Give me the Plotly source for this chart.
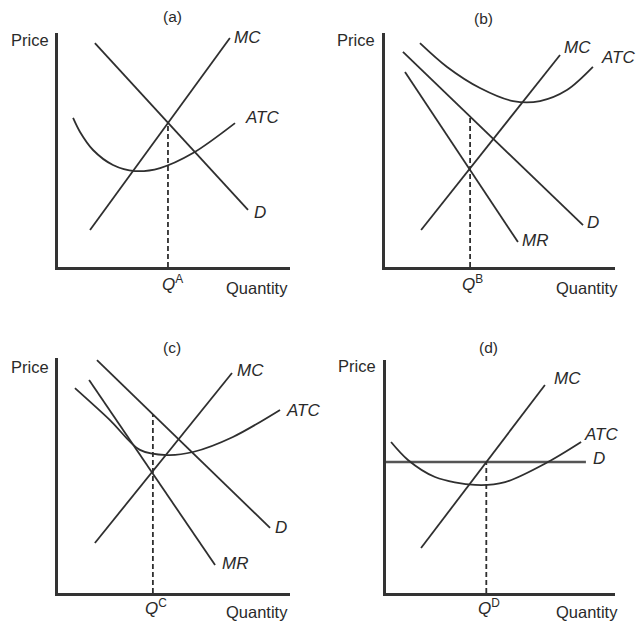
import plotly.graph_objects as go

W, H = 638, 623

# ---- data (economic units, each panel axes 0..10) ----
# Panel (a)
a_mc_x = [1.38, 7.41]; a_mc_y = [1.58, 9.79]
a_d_x = [1.59, 8.19]; a_d_y = [9.57, 2.44]
a_atc_x = [0.65, 0.95, 1.51, 2.37, 3.32, 4.40, 5.82, 7.63]
a_atc_y = [6.37, 5.77, 5.00, 4.36, 4.10, 4.23, 4.87, 6.15]
a_q = 4.74; a_qp = 6.12
# Panel (b)
b_mc_x = [1.57, 7.61]; b_mc_y = [1.58, 9.06]
b_atc_x = [1.52, 2.70, 4.13, 5.57, 6.74, 7.91, 9.04]
b_atc_y = [9.57, 8.55, 7.65, 7.09, 7.09, 7.56, 8.55]
b_d_x = [0.78, 8.61]; b_d_y = [9.19, 1.79]
b_mr_x = [0.87, 5.78]; b_mr_y = [8.33, 1.07]
b_q = 3.70; b_qp = 6.43
# Panel (c)
c_mc_x = [1.59, 7.5]; c_mc_y = [2.13, 9.36]
c_atc_x = [0.73, 2.24, 3.53, 4.70, 5.82, 7.54, 9.57]
c_atc_y = [8.72, 7.36, 6.09, 5.87, 6.0, 6.64, 7.79]
c_d_x = [1.68, 9.14]; c_d_y = [9.91, 2.77]
c_mr_x = [1.34, 6.77]; c_mr_y = [9.06, 1.19]
c_q = 4.09; c_qp = 7.60
# Panel (d)
d_mc_x = [1.53, 6.94]; d_mc_y = [1.93, 8.93]
d_atc_x = [0.22, 0.96, 2.14, 3.89, 5.2, 7.07, 8.52]
d_atc_y = [6.48, 5.71, 4.98, 4.64, 4.76, 5.62, 6.48]
d_d_x = [0.0, 8.73]; d_d_y = [5.62, 5.62]
d_q = 4.38; d_qp = 5.62

panel_titles = ["(a)", "(b)", "(c)", "(d)"]
q_letters = ["A", "B", "C", "D"]

# ---- layout geometry (page pixels) ----
geo = [(58, 290, 33, 267), (385, 615, 33, 267), (58, 290, 358, 593), (386, 615, 360, 593)]

LC = "#2f2f2f"
FONT = "Liberation Sans, Arial, sans-serif"
fig = go.Figure()

def px2paper(px, py):
    return px / W, 1 - py / H

# (x, y, shape, colour, width)
curves = [
    [(a_mc_x, a_mc_y, "linear", LC, 1.8), (a_d_x, a_d_y, "linear", LC, 1.8), (a_atc_x, a_atc_y, "spline", LC, 1.8)],
    [(b_mc_x, b_mc_y, "linear", LC, 1.8), (b_atc_x, b_atc_y, "spline", LC, 1.8),
     (b_d_x, b_d_y, "linear", LC, 1.8), (b_mr_x, b_mr_y, "linear", LC, 1.8)],
    [(c_mc_x, c_mc_y, "linear", LC, 1.8), (c_atc_x, c_atc_y, "spline", LC, 1.8),
     (c_d_x, c_d_y, "linear", LC, 1.8), (c_mr_x, c_mr_y, "linear", LC, 1.8)],
    [(d_d_x, d_d_y, "linear", "#555555", 2.6), (d_mc_x, d_mc_y, "linear", LC, 1.8),
     (d_atc_x, d_atc_y, "spline", LC, 1.8)],
]
qs = [(a_q, a_qp), (b_q, b_qp), (c_q, c_qp), (d_q, d_qp)]

for i, (x0, x1, yt, yb) in enumerate(geo):
    n = "" if i == 0 else str(i + 1)
    xa, ya = "x" + n, "y" + n
    for (xs, ys, shp, col, lw) in curves[i]:
        fig.add_trace(go.Scatter(x=xs, y=ys, mode="lines", xaxis=xa, yaxis=ya,
                                 line=dict(color=col, width=lw, shape=shp, smoothing=0.9),
                                 showlegend=False, hoverinfo="skip"))
    q, qp = qs[i]
    fig.add_trace(go.Scatter(x=[q, q], y=[0, qp], mode="lines", xaxis=xa, yaxis=ya,
                             line=dict(color=LC, width=1.8, dash="5px,3px"),
                             showlegend=False, hoverinfo="skip"))
    dx0, dyt = px2paper(x0, yt)
    dx1, dyb = px2paper(x1, yb)
    common = dict(showgrid=False, zeroline=False, showticklabels=False, ticks="",
                  showline=True, linecolor="#333333", linewidth=3, range=[0, 10], fixedrange=True)
    fig.layout["xaxis" + n] = dict(domain=[dx0, dx1], anchor=ya, **common)
    fig.layout["yaxis" + n] = dict(domain=[dyb, dyt], anchor=xa, **common)

ann = []
def lab(text, px, py, size=17, italic=True, color="#2a2a2a"):
    x, y = px2paper(px, py)
    t = f"<i>{text}</i>" if italic else text
    ann.append(dict(text=t, x=x, y=y, xref="paper", yref="paper", showarrow=False,
                    xanchor="center", yanchor="middle",
                    font=dict(family=FONT, size=size, color=color)))

title_pos = [(172, 16), (483, 18), (172, 348), (488, 347)]
price_pos = [(30, 40), (356, 40), (30, 367), (357, 366)]
qty_pos = [(257, 288), (587, 288), (257, 612), (587, 612)]
qlab_pos = [(172, 283), (472, 283), (156, 607), (489, 607)]
for i in range(4):
    lab(panel_titles[i], *title_pos[i], size=15.5, italic=False)
    lab("Price", *price_pos[i], size=16.5, italic=False)
    lab("Quantity", *qty_pos[i], size=16.5, italic=False)
    x, y = px2paper(*qlab_pos[i])
    ann.append(dict(text=f"<i>Q</i><sup>{q_letters[i]}</sup>",
                    x=x, y=y, xref="paper", yref="paper", showarrow=False,
                    xanchor="center", yanchor="middle",
                    font=dict(family=FONT, size=17, color="#2a2a2a")))

lab("MC", 247, 37); lab("ATC", 262, 117); lab("D", 260, 212)
lab("MC", 577, 48); lab("ATC", 618, 58); lab("D", 593, 222); lab("MR", 535, 240)
lab("MC", 250, 370); lab("ATC", 303, 410); lab("D", 281, 527); lab("MR", 235, 563)
lab("MC", 567, 378); lab("ATC", 601, 434); lab("D", 599, 458)

fig.update_layout(width=W, height=H, margin=dict(l=0, r=0, t=0, b=0),
                  paper_bgcolor="white", plot_bgcolor="white", annotations=ann,
                  showlegend=False)
fig.write_html("out.html", config={"displayModeBar": False},
               post_script="document.body.style.margin='0';document.body.style.overflow='hidden';")
